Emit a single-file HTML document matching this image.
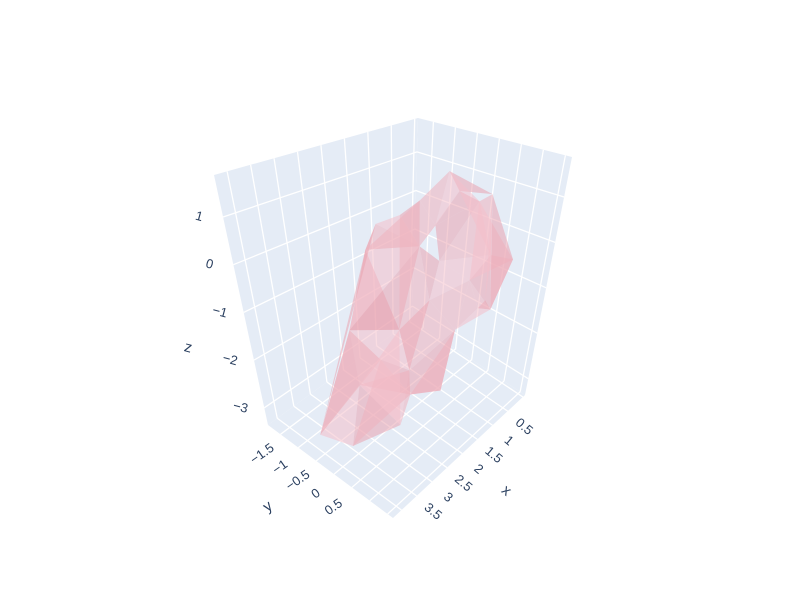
<!DOCTYPE html>
<html><head><meta charset="utf-8"><style>
body{margin:0;background:#fff;}
svg{display:block;font-family:"Liberation Sans",sans-serif;}
</style></head><body>
<svg id="chart" width="800" height="600" viewBox="0 0 800 600" xmlns="http://www.w3.org/2000/svg">
<rect width="800" height="600" fill="#fff"/>
<g id="walls"></g>
<g id="mesh"></g>
<g id="labels"></g>
</svg>
<script>
const xRange=[-0.07,4.28], yRange=[-1.85,1.65], zRange=[-3.36,1.88];
const xTicks=[0.5,1,1.5,2,2.5,3,3.5];
const yTicks=[-1.5,-1,-0.5,0,0.5];
const zTicks=[-3,-2,-1,0,1];
const xTickLabels=["0.5","1","1.5","2","2.5","3","3.5"];
const yTickLabels=["\u22121.5","\u22121","\u22120.5","0","0.5"];
const zTickLabels=["\u22123","\u22122","\u22121","0","1"];
const xGrid=[0,0.5,1,1.5,2,2.5,3,3.5,4];
const yGrid=[-1.5,-1,-0.5,0,0.5,1,1.5];
const meshX=[3.89,3.76,2.67,2.37,1.8,1.02,0.67,0.45,0.47,-0.05,0.28,0.23,0.28,0.54,0.5,0.93,1.06,1.32,1.71,2.02,2.5,1.41,1.15,1.45,2.02,2.24,2.06,2.54,0.58];
const meshY=[-0.63,0.25,0.6,0.6,0.95,0.6,0.95,0.95,1.13,1.3,0.95,0.95,0.6,0.25,-0.1,-0.1,-0.45,-0.8,-1.15,-1.15,-1.15,-0.1,0.25,0.25,-0.1,-0.45,0.25,-0.8,0.6];
const meshZ=[-3.2,-3.1,-3.05,-2.52,-2.57,-1.79,-1.32,-1.26,-1.37,-0.43,-0.32,1.04,0.73,0.94,1.2,0.2,0.67,0.31,0.15,-0.27,-1.84,-0.01,-0.32,-1.05,-1.58,-2.31,-2.31,-2.89,-0.9];
const meshI=[0,1,2,2,0,27,25,20,19,18,17,16,15,15,12,10,8,6,5,4,5,23,21,21,22,22,22,22,28,28,24,26,25,19,13,16,12,0,1,7,20,19,21,24,23,5,3,17,14,11,0,2];
const meshJ=[1,2,3,26,27,25,24,19,18,17,16,15,14,13,11,9,7,5,4,5,23,24,22,24,28,15,12,10,10,8,26,3,3,20,14,14,9,19,25,11,21,21,15,23,5,6,4,21,12,9,20,24];
const meshK=[27,27,26,27,20,20,20,24,21,21,21,21,13,12,10,8,6,28,3,26,26,26,23,23,23,12,10,28,8,6,25,25,27,21,11,15,28,18,3,10,24,16,13,26,28,8,26,24,10,8,25,27];

// box corners in screen space (walls)
const C={"000":[412,320],"100":[268,425],"010":[525,395],"110":[393,518],
         "001":[418,118],"101":[214,175],"011":[572,157],"111":[375,222]};
function frac(x,y,z){return [(x-xRange[0])/(xRange[1]-xRange[0]),(y-yRange[0])/(yRange[1]-yRange[0]),(z-zRange[0])/(zRange[1]-zRange[0])];}
function proj(x,y,z){
  const [u,v,w]=frac(x,y,z);
  let sx=0,sy=0;
  for(const a of [0,1])for(const b of [0,1])for(const c of [0,1]){
    const wt=(a?u:1-u)*(b?v:1-v)*(c?w:1-w);
    const p=C[""+a+b+c];sx+=wt*p[0];sy+=wt*p[1];
  }
  return [sx,sy];
}
// interior projection for mesh (mid-depth affine)
function projMesh(x,y,z){
  const [u,v,w]=frac(x,y,z);
  return [412-144*u+113*v, 320+105*u+75*v-230*w];
}
const NS="http://www.w3.org/2000/svg";
function mk(tag,attrs,parent){const e=document.createElementNS(NS,tag);for(const k in attrs)e.setAttribute(k,attrs[k]);parent.appendChild(e);return e;}
const walls=document.getElementById('walls');
const X0=xRange[0],X1=xRange[1],Y0=yRange[0],Y1=yRange[1],Z0=zRange[0],Z1=zRange[1];
function poly(pts){return pts.map(p=>p.map(n=>n.toFixed(1)).join(',')).join(' ');}
let e=mk('polygon',{points:poly([proj(X0,Y0,Z0),proj(X1,Y0,Z0),proj(X1,Y0,Z1),proj(X0,Y0,Z1)]),fill:'rgb(229,236,246)'},walls);


e=mk('polygon',{points:poly([proj(X0,Y0,Z0),proj(X0,Y1,Z0),proj(X0,Y1,Z1),proj(X0,Y0,Z1)]),fill:'rgb(229,236,246)'},walls);


e=mk('polygon',{points:poly([proj(X0,Y0,Z0),proj(X1,Y0,Z0),proj(X1,Y1,Z0),proj(X0,Y1,Z0)]),fill:'rgb(229,236,246)'},walls);


function line(a,b,name){const l=mk('line',{x1:a[0],y1:a[1],x2:b[0],y2:b[1],stroke:'#fff','stroke-width':1.3},walls);

}
xGrid.forEach(x=>{line(proj(x,Y0,Z0),proj(x,Y0,Z1),'x-gridline');line(proj(x,Y0,Z0),proj(x,Y1,Z0),'x-gridline');});
yGrid.forEach(y=>{line(proj(X0,y,Z0),proj(X0,y,Z1),'y-gridline');line(proj(X0,y,Z0),proj(X1,y,Z0),'y-gridline');});
zTicks.forEach(z=>{line(proj(X0,Y0,z),proj(X1,Y0,z),'z-gridline');line(proj(X0,Y0,z),proj(X0,Y1,z),'z-gridline');});
const mesh=document.getElementById('mesh');
for(let t=0;t<meshI.length;t++){
  const a=projMesh(meshX[meshI[t]],meshY[meshI[t]],meshZ[meshI[t]]);
  const b=projMesh(meshX[meshJ[t]],meshY[meshJ[t]],meshZ[meshJ[t]]);
  const c=projMesh(meshX[meshK[t]],meshY[meshK[t]],meshZ[meshK[t]]);
  const shade=t%3===0?'rgb(244,192,202)':(t%3===1?'rgb(234,164,176)':'rgb(239,178,189)');
  const p=mk('polygon',{points:poly([a,b,c]),fill:shade,'fill-opacity':0.55},mesh);
  
  
}
const labels=document.getElementById('labels');
function txt(s,x,y,rot,name,size){const t=mk('text',{x:x,y:y,'text-anchor':'middle','dominant-baseline':'middle','font-size':size||13,fill:'#2a3f5f',transform:`rotate(${rot} ${x} ${y})`},labels);t.textContent=s;

}
zTicks.forEach((z,i)=>{const p=proj(X1,Y0,z);txt(zTickLabels[i],p[0]-24,p[1],15,'z-tick-label');});
yTicks.forEach((y,i)=>{const p=proj(X1,y,Z0);txt(yTickLabels[i],p[0]-18,p[1]+20,-35,'y-tick-label');});
xTicks.forEach((x,i)=>{const p=proj(x,Y1,Z0);txt(xTickLabels[i],p[0]+16,p[1]+16,40,'x-tick-label');});
txt('z',188,348,15,'z-axis-title',15);
txt('y',268,507,-35,'y-axis-title',15);
txt('x',506,491,40,'x-axis-title',15);
</script>
</body></html>
